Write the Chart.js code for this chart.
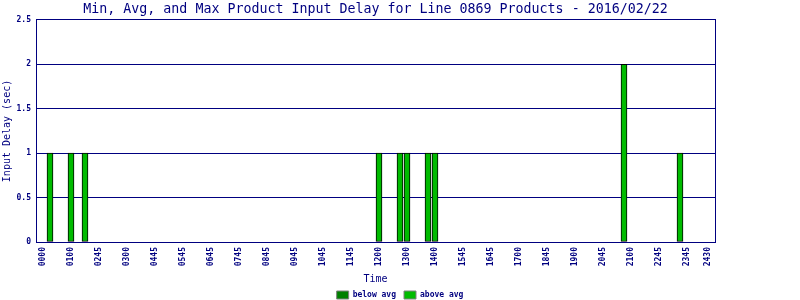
<!DOCTYPE html>
<html>
<head>
<meta charset="utf-8">
<script src="https://cdn.jsdelivr.net/npm/chart.js@4/dist/chart.umd.min.js"></script>
<style>
  html, body { margin: 0; padding: 0; background: #fff; }
  #wrap { width: 800px; height: 300px; }
</style>
</head>
<body>
<div id="wrap"><canvas id="chart-delay"></canvas></div>
<script>
// slots along the time axis (slot 0 and the last one are empty edges)
const slotCount = 98;
const tickSlots = [1, 5, 9, 13, 17, 21, 25, 29, 33, 37, 41, 45, 49, 53, 57, 61, 65, 69, 73, 77, 81, 85, 89, 93, 96];
const tickLabels = ['0000', '0100', '0245', '0300', '0445', '0545', '0645', '0745', '0845', '0945', '1045', '1145',
  '1200', '1300', '1400', '1545', '1645', '1700', '1845', '1900', '2045', '2100', '2245', '2345', '2430'];

// bars: slot index + delay (sec)
const aboveSlots = [2, 5, 7, 49, 52, 53, 56, 57, 84, 92];
const aboveValues = [1, 1, 1, 1, 1, 1, 1, 1, 2, 1];
const belowSlots = [];
const belowValues = [];

const NAVY = '#000080';
const FONT = 'DejaVu Sans Mono';

function buildSeries(slots, values) {
  const arr = Array(slotCount).fill(null);
  slots.forEach((s, i) => { arr[s] = values[i]; });
  return arr;
}

const labels = Array(slotCount).fill('');
tickSlots.forEach((s, i) => { labels[s] = tickLabels[i]; });

const ctx = document.getElementById('chart-delay').getContext('2d');
new Chart(ctx, {
  type: 'bar',
  data: {
    labels: labels,
    datasets: [
      {
        label: 'below avg',
        data: buildSeries(belowSlots, belowValues),
        backgroundColor: '#008000',
        borderColor: '#000000',
        borderWidth: 1,
        borderSkipped: false,
        barThickness: 6,
      },
      {
        label: 'above avg',
        data: buildSeries(aboveSlots, aboveValues),
        backgroundColor: '#00BB00',
        borderColor: '#000000',
        borderWidth: 1,
        borderSkipped: false,
        barThickness: 6,
      },
    ],
  },
  options: {
    responsive: true,
    maintainAspectRatio: false,
    animation: false,
    layout: { padding: 0 },
    scales: {
      x: {
        type: 'category',
        offset: false,
        stacked: true,
        grid: { display: false, offset: false, drawTicks: false },
        border: { display: true, color: NAVY, width: 1 },
        ticks: {
          autoSkip: false,
          minRotation: 90,
          maxRotation: 90,
          padding: 5,
          color: NAVY,
          font: { family: FONT, size: 8, weight: 'bold' },
        },
        title: {
          display: true,
          text: 'Time',
          color: NAVY,
          font: { family: FONT, size: 10, lineHeight: 0.8 },
          padding: { top: 0, bottom: 0 },
        },
        afterFit: (s) => { s.height = 41; },
      },
      y: {
        min: 0,
        max: 2.5,
        stacked: true,
        ticks: {
          stepSize: 0.5,
          padding: 5,
          color: NAVY,
          font: { family: FONT, size: 8, weight: 'bold' },
          callback: (v) => String(Number(v)),
        },
        grid: { color: NAVY, lineWidth: 1, drawTicks: false },
        border: { display: true, color: NAVY, width: 1 },
        title: {
          display: true,
          text: 'Input Delay (sec)',
          color: NAVY,
          font: { family: FONT, size: 10 },
          padding: { top: 1, bottom: 0 },
        },
        afterFit: (s) => { s.width = 36; },
      },
      // empty right axis: keeps the margin and draws the right frame line
      yRight: {
        position: 'right',
        display: true,
        ticks: { display: false },
        grid: { display: false, drawTicks: false },
        border: { display: true, color: NAVY, width: 1 },
        afterFit: (s) => { s.width = 85; },
      },
    },
    plugins: {
      title: {
        display: true,
        text: 'Min, Avg, and Max Product Input Delay for Line 0869 Products - 2016/02/22',
        color: NAVY,
        fullSize: false,
        font: { family: FONT, size: 13.3, weight: 'normal' },
        padding: { top: 2, bottom: 2 },
      },
      legend: {
        position: 'bottom',
        maxHeight: 17,
        labels: {
          boxWidth: 12,
          boxHeight: 8,
          padding: 8,
          color: NAVY,
          font: { family: FONT, size: 8, weight: 'bold' },
          generateLabels: (chart) => chart.data.datasets.map((ds, i) => ({
            text: ds.label,
            fillStyle: ds.backgroundColor,
            strokeStyle: '#808080',
            lineWidth: 1,
            fontColor: NAVY,
            datasetIndex: i,
          })),
        },
      },
      tooltip: { enabled: false },
    },
  },
});
</script>
</body>
</html>
